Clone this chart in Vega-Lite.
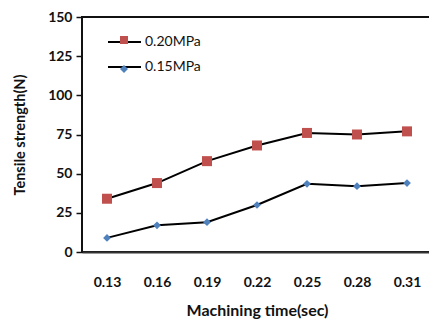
{
  "$schema": "https://vega.github.io/schema/vega-lite/v6.json",
  "width": 350,
  "height": 235,
  "autosize": "none",
  "padding": {"left": 82, "top": 17, "right": 0, "bottom": 72},
  "background": "white",
  "config": {
    "font": "Lato",
    "view": {"stroke": "#111", "strokeWidth": 2},
    "legend": {"padding": 0, "labelFont": "Lato", "labelFontSize": 14, "labelColor": "#111"}
  },
  "data": {
    "values": [
      {"time": "0.13", "strength": 34, "series": "0.20MPa", "label": "0.20MPa"},
      {"time": "0.16", "strength": 44, "series": "0.20MPa", "label": "0.20MPa"},
      {"time": "0.19", "strength": 58, "series": "0.20MPa", "label": "0.20MPa"},
      {"time": "0.22", "strength": 68, "series": "0.20MPa", "label": "0.20MPa"},
      {"time": "0.25", "strength": 76, "series": "0.20MPa", "label": "0.20MPa"},
      {"time": "0.28", "strength": 75, "series": "0.20MPa", "label": "0.20MPa"},
      {"time": "0.31", "strength": 77, "series": "0.20MPa", "label": "0.20MPa"},
      {"time": "0.13", "strength": 9, "series": "0.15MPa", "label": "0.15MPa"},
      {"time": "0.16", "strength": 17, "series": "0.15MPa", "label": "0.15MPa"},
      {"time": "0.19", "strength": 19, "series": "0.15MPa", "label": "0.15MPa"},
      {"time": "0.22", "strength": 30, "series": "0.15MPa", "label": "0.15MPa"},
      {"time": "0.25", "strength": 43.5, "series": "0.15MPa", "label": "0.15MPa"},
      {"time": "0.28", "strength": 42, "series": "0.15MPa", "label": "0.15MPa"},
      {"time": "0.31", "strength": 44, "series": "0.15MPa", "label": "0.15MPa"}
    ]
  },
  "encoding": {
    "x": {
      "field": "time", "type": "ordinal",
      "scale": {"type": "point", "padding": 0.5},
      "axis": {
        "title": "Machining time(sec)", "labelAngle": 0, "ticks": false, "domain": true,
        "domainColor": "#333", "domainWidth": 2,
        "labelFont": "Lato", "labelFontSize": 14, "labelFontWeight": "bold", "labelColor": "#111", "labelPadding": 23,
        "titleFont": "Lato", "titleFontSize": 16, "titleFontWeight": "bold", "titleColor": "#111", "titlePadding": 13,
        "grid": false
      }
    },
    "y": {
      "field": "strength", "type": "quantitative",
      "scale": {"domain": [0, 150], "nice": false},
      "axis": {
        "title": "Tensile strength(N)", "values": [0, 25, 50, 75, 100, 125, 150], "grid": false, "domain": false,
        "tickSize": 6, "tickColor": "#111", "tickWidth": 1.5,
        "labelFont": "Lato", "labelFontSize": 14, "labelFontWeight": "bold", "labelColor": "#111", "labelPadding": 4,
        "titleFont": "Lato", "titleFontSize": 14.5, "titleFontWeight": "bold", "titleColor": "#111", "titlePadding": 20
      }
    }
  },
  "layer": [
    {
      "mark": {"type": "line", "strokeWidth": 2},
      "encoding": {
        "stroke": {
          "field": "label", "type": "nominal", "sort": ["0.20MPa", "0.15MPa"],
          "scale": {"range": ["#000000", "#000000"]},
          "legend": {
            "orient": "none", "legendX": 25, "legendY": 7.5, "rowPadding": -1, "title": null,
            "symbolType": "stroke", "symbolSize": 1089, "symbolStrokeWidth": 2, "labelOffset": 3
          }
        }
      }
    },
    {
      "mark": {"type": "point", "filled": true, "opacity": 1},
      "encoding": {
        "color": {
          "field": "series", "type": "nominal", "sort": ["0.20MPa", "0.15MPa"],
          "scale": {"range": ["#C0504D", "#4F81BD"]},
          "legend": {
            "orient": "none", "legendX": 37, "legendY": 18, "rowPadding": 15, "title": null,
            "labelOpacity": 0, "labelFontSize": 1, "symbolOpacity": 1, "symbolSize": 64,
            "encode": {"symbols": {"update": {"shape": {"scale": "shape", "field": "value"}, "fill": {"scale": "color", "field": "value"}, "opacity": {"value": 1}}}}
          }
        },
        "shape": {
          "field": "series", "type": "nominal", "sort": ["0.20MPa", "0.15MPa"],
          "scale": {"range": ["square", "diamond"]},
          "legend": null
        },
        "size": {
          "field": "series", "type": "nominal", "sort": ["0.20MPa", "0.15MPa"],
          "scale": {"range": [100, 60]},
          "legend": null
        }
      }
    }
  ]
}
